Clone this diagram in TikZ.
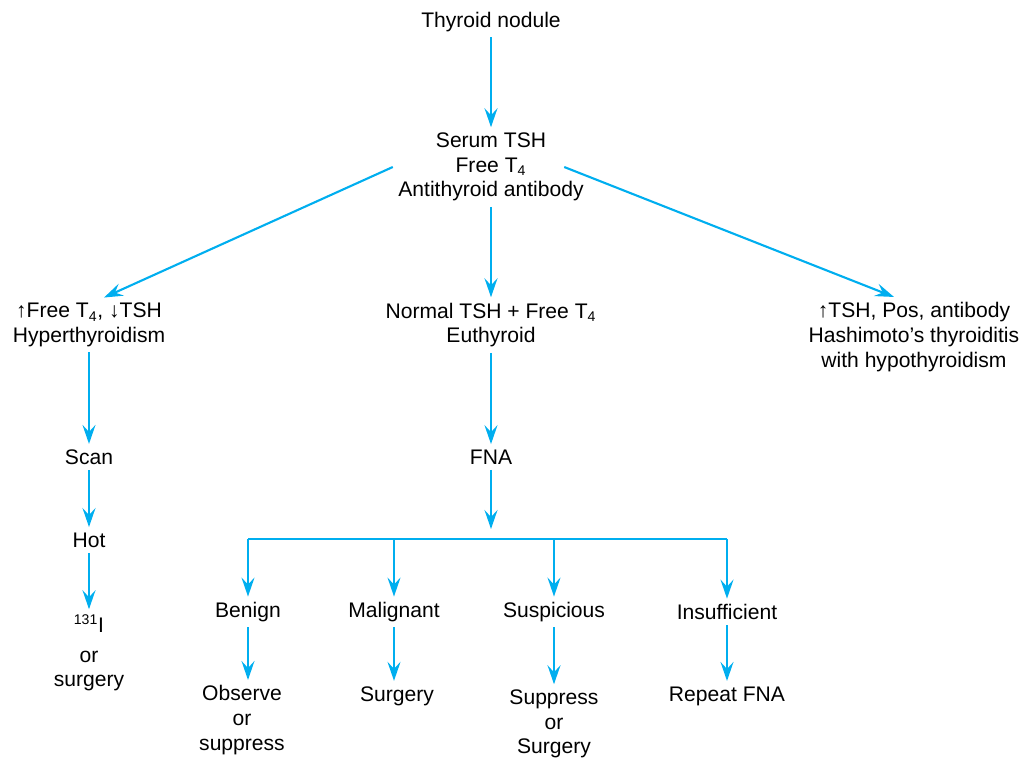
\documentclass[tikz,border=0pt]{standalone}
\usepackage{fontspec}
\setmainfont{Liberation Sans}
\usetikzlibrary{arrows.meta}
\definecolor{flowblue}{RGB}{0,174,239}

\begin{document}
\begin{tikzpicture}[x=0.02cm,y=-0.02cm,
  every node/.style={font=\fontsize{12}{14}\selectfont, align=center, inner sep=3pt},
  arr/.style={flowblue, line width=1.2pt, -{Stealth[length=3.8mm,width=2.6mm,inset=1.4mm]}},
  bar/.style={flowblue, line width=1.2pt}]
\useasboundingbox (0,0) rectangle (1022,762);

% top of the tree
\node (nodule) at (491,22) {Thyroid nodule};
\node (serum) at (491,167) {Serum TSH\\Free T\textsubscript{4}\\Antithyroid antibody};
\node (hyper) at (89,325) {↑Free T\textsubscript{4}, ↓TSH\\Hyperthyroidism};
\node (euth) at (491,325) {Normal TSH + Free T\textsubscript{4}\\Euthyroid};
\node (hashi) at (914,337) {↑TSH, Pos, antibody\\Hashimoto’s thyroiditis\\with hypothyroidism};

% left branch
\node (scan) at (89,457) {Scan};
\node (hot) at (89,540) {Hot};
\node (iod) at (89,653) {\textsuperscript{131}I\\[3pt]or\\surgery};

% middle branch
\node (fna) at (491,457) {FNA};
\node (benign) at (248,612) {Benign};
\node (malig) at (394,612) {Malignant};
\node (susp) at (554,612) {Suspicious};
\node (insuf) at (727,612) {Insufficient};
\node (observe) at (242,720) {Observe\\or\\suppress};
\node (surg) at (397,696) {Surgery};
\node (suppr) at (554,724) {Suppress\\or\\Surgery};
\node (repeat) at (727,696) {Repeat FNA};

\coordinate (bl) at (248,539);
\coordinate (br) at (727,539);

\draw[arr] (nodule) -- (serum);
\draw[arr] (serum.west) -- ([xshift=0.3cm]hyper.north);
\draw[arr] (serum) -- (euth);
\draw[arr] ([xshift=-0.5cm]serum.east) -- ([xshift=-0.4cm]hashi.north);

\draw[arr] (hyper) -- (scan);
\draw[arr] (scan) -- (hot);
\draw[arr] (hot) -- (iod);

\draw[arr] (euth) -- (fna);
\draw[arr] (fna) -- ([yshift=0.2cm]fna |- bl);
\draw[bar] (bl) -- (br);
\draw[arr] (bl) -- (benign);
\draw[arr] (malig |- bl) -- (malig);
\draw[arr] (susp |- bl) -- (susp);
\draw[arr] (br) -- (insuf);

\draw[arr] (benign) -- (benign |- observe.north);
\draw[arr] (malig) -- (malig |- surg.north);
\draw[arr] (susp) -- (suppr);
\draw[arr] (insuf) -- (repeat);
\end{tikzpicture}
\end{document}
